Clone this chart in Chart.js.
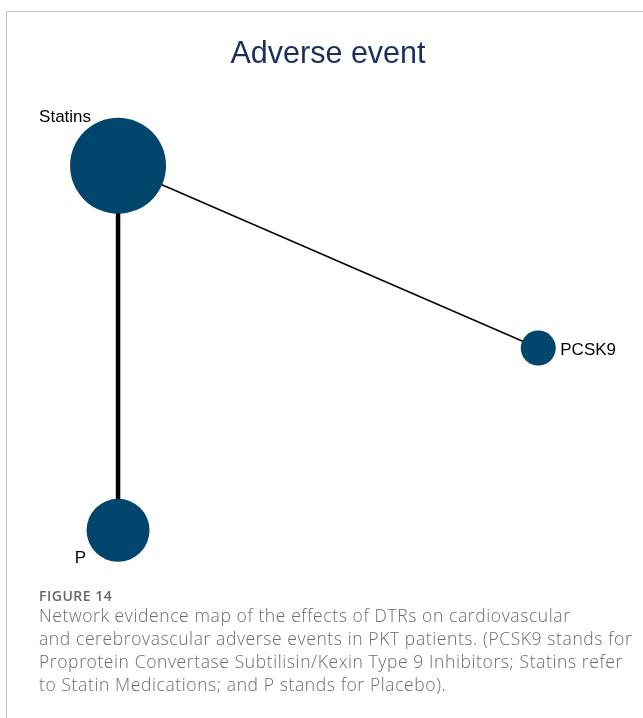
<!DOCTYPE html>
<html>
<head>
<meta charset="utf-8">
<script src="https://cdn.jsdelivr.net/npm/chart.js@4.4.0/dist/chart.umd.min.js"></script>
<style>
    body {
        margin: 0;
        background: #fff;
        width: 643px;
        height: 718px;
        position: relative;
        overflow: hidden;
    }
    #frame {
        position: absolute;
        left: 6px;
        top: 11px;
        right: 0;
        bottom: 0;
        border-top: 1px solid #c4c4c4;
        border-left: 1px solid #c4c4c4;
    }
    #networkChart {
        position: absolute;
        left: 0;
        top: 0;
    }
    #caption {
        position: absolute;
        left: 39px;
        top: 587px;
        font-family: "Open Sans", sans-serif;
        white-space: nowrap;
    }
    #caption .fig {
        font-size: 14px;
        font-weight: 600;
        letter-spacing: 0.5px;
        line-height: 17px;
        color: #666;
    }
    #caption .txt {
        font-size: 17.5px;
        font-weight: 300;
        letter-spacing: 0.6px;
        line-height: 23px;
        color: #6b6b6b;
    }
</style>
</head>
<body>
<div id="frame"></div>
<canvas id="networkChart" width="643" height="633"></canvas>
<div id="caption">
    <div class="fig">FIGURE 14</div>
    <div class="txt">Network evidence map of the effects of DTRs on cardiovascular<br>and cerebrovascular adverse events in PKT patients. (PCSK9 stands for<br>Proprotein Convertase Subtilisin/Kexin Type 9 Inhibitors; Statins refer<br>to Statin Medications; and P stands for Placebo).</div>
</div>
<script>
// nodes of the network
const treatments = ["Statins", "PCSK9", "P"];
const nodeX = [0, 1, 0];
const nodeY = [1, 0.5, 0];
const nodeSize = [48, 17.5, 31.5];

// edges (direct comparisons), thickness ~ number of studies
const edgeFrom = ["Statins", "Statins"];
const edgeTo = ["P", "PCSK9"];
const edgeStudies = [3, 1];

const nodeColor = "#02466e";

const nodes = treatments.map((t, i) => ({ x: nodeX[i], y: nodeY[i], r: nodeSize[i] }));

const edgeSets = edgeFrom.map((from, i) => {
    const a = treatments.indexOf(from);
    const b = treatments.indexOf(edgeTo[i]);
    return {
        type: "scatter",
        label: from + " - " + edgeTo[i],
        data: [
            { x: nodeX[a], y: nodeY[a] },
            { x: nodeX[b], y: nodeY[b] },
        ],
        showLine: true,
        borderColor: "#000",
        borderWidth: edgeStudies[i] * 1.5,
        pointRadius: 0,
        clip: false,
        order: 1,
    };
});

// label placement around each node: [dx, dy, align]
const labelPos = {
    Statins: [-27, -44, "right"],
    PCSK9: [22, 7, "left"],
    P: [-32, 33, "right"],
};

const nodeLabels = {
    id: "nodeLabels",
    afterDatasetsDraw(chart) {
        const meta = chart.getDatasetMeta(0);
        const ctx = chart.ctx;
        ctx.save();
        ctx.font = '17px "Liberation Sans", Arial, sans-serif';
        ctx.fillStyle = "#000";
        ctx.textBaseline = "alphabetic";
        meta.data.forEach((pt, i) => {
            const p = labelPos[treatments[i]];
            ctx.textAlign = p[2];
            ctx.fillText(treatments[i], pt.x + p[0], pt.y + p[1]);
        });
        ctx.restore();
    },
};

const ctx = document.getElementById("networkChart");
const networkChart = new Chart(ctx, {
    type: "bubble",
    data: {
        datasets: [
            {
                label: "Treatments",
                data: nodes,
                backgroundColor: nodeColor,
                borderWidth: 0,
                clip: false,
                order: 0,
            },
            ...edgeSets,
        ],
    },
    options: {
        responsive: false,
        animation: false,
        layout: {
            padding: { left: 13 },
        },
        scales: {
            x: { type: "linear", min: -0.1667, max: 1.135, display: false },
            y: { type: "linear", min: -0.15, max: 1.25, display: false },
        },
        plugins: {
            legend: { display: false },
            tooltip: { enabled: false },
            title: {
                display: true,
                text: "Adverse event",
                color: "#1b2f5c",
                font: { family: '"Liberation Sans", Arial, sans-serif', size: 30.5, weight: "normal" },
                padding: { top: 36, bottom: 2 },
            },
        },
    },
    plugins: [nodeLabels],
});
</script>
</body>
</html>
